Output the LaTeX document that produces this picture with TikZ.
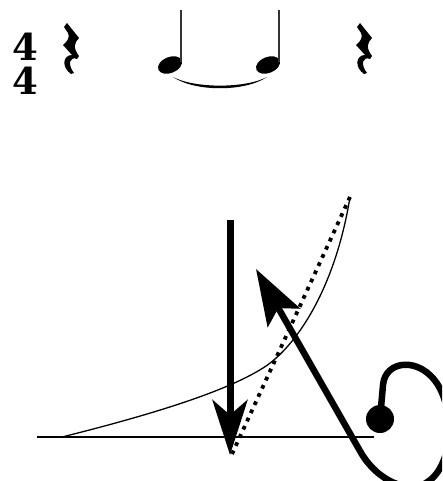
\documentclass[tikz,border=0pt]{standalone}
\usepackage{fontspec}
\newfontfamily\tsfont{DejaVu Serif}
\usetikzlibrary{arrows.meta}
\begin{document}
\begin{tikzpicture}[x=1pt,y=-1pt,
  thinline/.style={line width=1.3pt},
  bigarrow/.style={line width=7pt,-{Stealth[length=55pt,width=35pt,inset=15pt]}},
  curlarrow/.style={line width=6.5pt,line join=round,-{Stealth[length=56pt,width=37pt,inset=11pt]}},
  dotline/.style={line width=3.8pt,dash pattern=on 3.8pt off 5.2pt},
  tsig/.style={font=\tsfont\bfseries\fontsize{37}{34.5}\selectfont,inner sep=0pt,align=center},
  stem/.style={line width=1.6pt,black!80},
  qrest/.pic={
    \fill (5,0) -- (17,15) .. controls (12,20) and (11,25) .. (17,33)
      -- (15,36) .. controls (8,33) and (5,41) .. (12,50)
      -- (9,51) .. controls (-1,44) and (1,32) .. (10,32)
      -- (1,22) .. controls (6,18) and (8,14) .. (6,10) -- (2,4) -- cycle;
  }]
\useasboundingbox (0,0) rectangle (442,481);
\clip (0,0) rectangle (442,481);

% --- music line ---
\node[tsig] (ts) at (25,64) {4\\4};
\pic at (62,23) {qrest};
\pic at (355,23) {qrest};

\fill[rotate around={22:(170,65)}] (170,65) ellipse [x radius=12.5pt, y radius=8pt];
\fill[rotate around={22:(268,65)}] (268,65) ellipse [x radius=12.5pt, y radius=8pt];
\coordinate (s1b) at (181,62); \coordinate (s1t) at (181,10);
\coordinate (s2b) at (279,62); \coordinate (s2t) at (279,10);
\draw[stem] (s1b) -- (s1t);
\draw[stem] (s2b) -- (s2t);
\fill (173,77) .. controls (195,92) and (245,92) .. (267,77)
      .. controls (245,88.5) and (195,88.5) .. (173,77) -- cycle;

% --- lower diagram ---
\coordinate (hl) at (37,437);
\coordinate (hr) at (374,437);
\coordinate (c0) at (62,437);
\coordinate (c1) at (263,368);
\coordinate (c2) at (350,197);
\coordinate (d0) at (232,454);
\coordinate (vtop) at (230,220);
\coordinate (vtip) at (230,455);
\coordinate (ctip) at (256,269);

\draw[thinline] (hl) -- (hr);
\draw[thinline] (c0) .. controls (150,415) and (225,392) .. (c1)
  .. controls (295,348) and (335,290) .. (c2);
\draw[dotline] (d0) -- (c2);
\draw[bigarrow] (vtop) -- (vtip);

\node[circle,fill,inner sep=0pt,minimum size=28pt] (dot) at (380,419) {};
\draw[curlarrow] (dot.center) -- (383,385)
  .. controls (385,360) and (420,356) .. (438,385)
  .. controls (456,415) and (452,468) .. (426,483)
  .. controls (410,493) and (378,483) .. (360,451)
  -- (ctip);
\end{tikzpicture}
\end{document}
